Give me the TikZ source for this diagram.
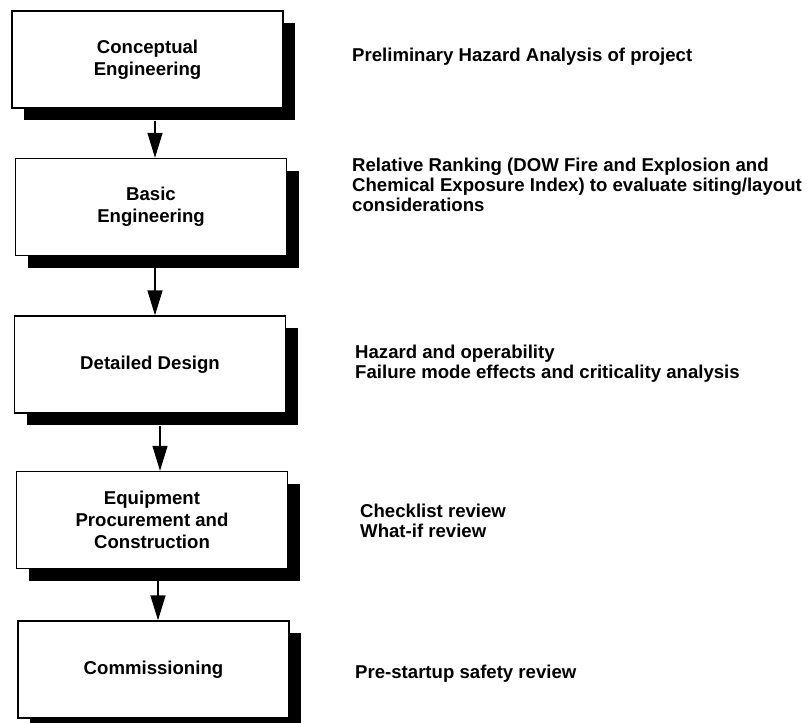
\documentclass[tikz,border=0pt]{standalone}
\usepackage{fontspec}
\setmainfont{Liberation Sans}
\usetikzlibrary{arrows.meta,shadows,calc}
\begin{document}
\begin{tikzpicture}[x=1pt,y=-1pt,
  stagebox/.style={draw=black, line width=1.3pt, fill=white, inner sep=0pt,
    minimum width=271pt, minimum height=97pt, align=center,
    font=\fontsize{18.6}{22}\selectfont\bfseries,
    drop shadow={shadow xshift=12pt, shadow yshift=-12pt, fill=black, opacity=1}},
  desc/.style={anchor=west, inner sep=0pt, align=left,
    font=\fontsize{18.6}{20}\selectfont\bfseries},
  arr/.style={line width=1.3pt, -{Triangle[length=25pt,width=15pt]}}]
\useasboundingbox[fill=white] (0,0) rectangle (812,723);

\node[stagebox] (b1) at (147.5,59.5) {Conceptual\\Engineering};
\node[stagebox] (b2) at (151,207) {Basic\\Engineering};
\node[stagebox] (b3) at (150,364.5) {Detailed Design};
\node[stagebox] (b4) at (152,520) {Equipment\\Procurement and\\Construction};
\node[stagebox] (b5) at (153.5,669.5) {Commissioning};

\coordinate (a1) at ([shift={(7.5,12)}]b1.south);
\coordinate (a2) at ([shift={(4,12)}]b2.south);
\coordinate (a3) at ([shift={(10,12)}]b3.south);
\coordinate (a4) at ([shift={(6,12)}]b4.south);
\draw[arr] (a1) -- (a1 |- b2.north);
\draw[arr] (a2) -- (a2 |- b3.north);
\draw[arr] (a3) -- (a3 |- b4.north);
\draw[arr] (a4) -- (a4 |- b5.north);

\node[desc] (d1) at (352,57) {Preliminary Hazard Analysis of project};
\node[desc] (d2) at (352,185) {Relative Ranking (DOW Fire and Explosion and\\Chemical Exposure Index) to evaluate siting/layout\\considerations};
\node[desc] (d3) at (355,364) {Hazard and operability\\Failure mode effects and criticality analysis};
\node[desc] (d4) at (360,521) {Checklist review\\What-if review};
\node[desc] (d5) at (355,674) {Pre-startup safety review};
\end{tikzpicture}
\end{document}
